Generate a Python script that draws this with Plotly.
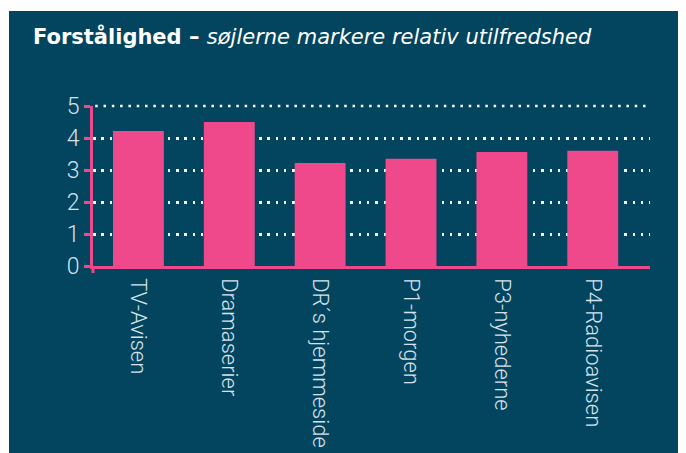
import plotly.graph_objects as go

categories = ["TV-Avisen", "Dramaserier", "DR´s hjemmeside", "P1-morgen", "P3-nyhederne", "P4-Radioavisen"]
values = [4.22, 4.5, 3.22, 3.35, 3.56, 3.6]
y_ticks = [0, 1, 2, 3, 4, 5]

DARK = "#03445f"
PINK = "#ef498c"
LABEL = "#d6e3ec"
GRID_DASH = "2.5px,5.8px"

OFF = 8  # page body margin
W, H = 686 - OFF, 453 - OFF
# plot area in page coordinates
P_LEFT, P_RIGHT, P_TOP, P_BOTTOM = 93, 650, 106, 266
ML = P_LEFT - OFF
MR = W - (P_RIGHT - OFF)
MT = P_TOP - OFF
MB = H - (P_BOTTOM - OFF)
pw = W - ML - MR
ph = H - MT - MB

def px_x(p):
    return (p - OFF - ML) / pw

def px_y(p):
    return (H - MB - (p - OFF)) / ph

fig = go.Figure()
fig.add_trace(go.Bar(x=categories, y=values, marker=dict(color=PINK, line=dict(width=0)),
                     hoverinfo="skip"))

fig.update_layout(
    template="none",
    width=W, height=H,
    margin=dict(l=ML, r=MR, t=MT, b=MB, pad=0),
    paper_bgcolor="white",
    plot_bgcolor="rgba(0,0,0,0)",
    bargap=0.44,
    showlegend=False,
    font=dict(family="Roboto", color=LABEL),
    xaxis=dict(
        range=[-0.5, 5.63],
        automargin=False,
        showgrid=False,
        showline=True, linecolor=PINK, linewidth=2.5,
        ticks="", tickangle=90,
        tickfont=dict(family="Roboto", size=22, color=LABEL, weight=300),
        ticklabelstandoff=5,
        zeroline=False, fixedrange=True,
    ),
    yaxis=dict(
        range=[0, 5],
        automargin=False,
        tickvals=y_ticks,
        showgrid=True, gridcolor="white", gridwidth=2.5, griddash=GRID_DASH,
        showline=True, linecolor=PINK, linewidth=3,
        ticks="outside", ticklen=6, tickwidth=2.5, tickcolor=PINK,
        tickfont=dict(family="Roboto", size=23, color=LABEL, weight=300),
        zeroline=False, fixedrange=True,
    ),
    shapes=[
        dict(type="rect", xref="paper", yref="paper", layer="below",
             x0=px_x(9), x1=px_x(700), y0=px_y(470), y1=px_y(11),
             fillcolor=DARK, line=dict(width=0)),
        dict(type="line", xref="paper", yref="paper", layer="below",
             x0=0.004, x1=1, y0=1, y1=1,
             line=dict(color="white", width=2.5, dash=GRID_DASH)),
        dict(type="line", xref="paper", yref="paper", layer="above",
             x0=0, x1=0, y0=px_y(266), y1=px_y(273),
             line=dict(color=PINK, width=3)),
    ],
    annotations=[
        dict(xref="paper", yref="paper", x=px_x(31), y=px_y(36),
             xanchor="left", yanchor="middle", showarrow=False,
             text="<b>Forstålighed – </b><i>søjlerne markere relativ utilfredshed</i>",
             font=dict(family="DejaVu Sans", size=21, color="white")),
    ],
)

fig.write_html("out.html")
